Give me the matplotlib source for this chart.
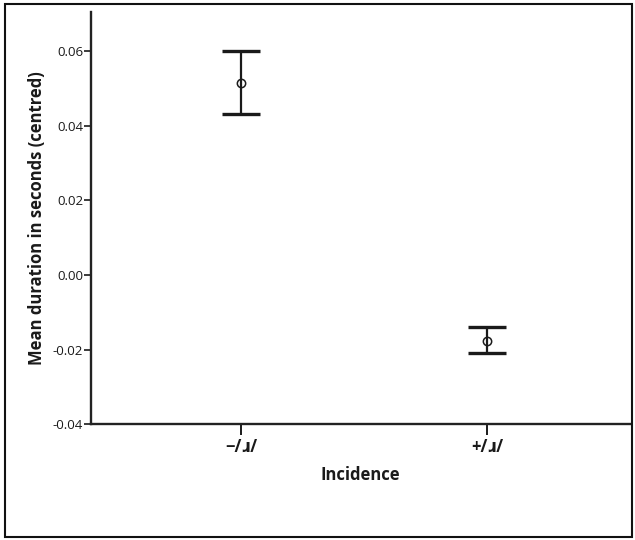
import matplotlib
matplotlib.use("Agg")
import matplotlib.pyplot as plt
from matplotlib.patches import Rectangle

categories = ["\u2212/\u0279/", "+/\u0279/"]
means = [0.0516, -0.0176]
upper = [0.0600, -0.0140]
lower = [0.0433, -0.0210]
yticks = [-0.04, -0.02, 0.00, 0.02, 0.04, 0.06]
ytick_labels = ["-0.04", "-0.02", "0.00", "0.02", "0.04", "0.06"]

fam = ["Open Sans", "DejaVu Sans"]
plt.rcParams['font.family'] = fam

fig = plt.figure(figsize=(6.35, 5.40), dpi=100)
ax = fig.add_axes([0.144, 0.2148, 0.848, 0.763])

x = list(range(len(categories)))
yerr = [[m - l for m, l in zip(means, lower)], [u - m for m, u in zip(means, upper)]]
cont = ax.errorbar(x, means, yerr=yerr, fmt='none', ecolor='#1a1a1a',
                   elinewidth=1.6, capsize=14, capthick=2.4)
ax.plot(x, means, 'o', color='#1a1a1a', markersize=6, markerfacecolor='none',
        markeredgewidth=1.1, zorder=4)

ax.set_xlim(-0.61, 1.58)
ax.set_ylim(-0.04, 0.0706)
ax.set_yticks(yticks)
ax.set_yticklabels(ytick_labels)
ax.set_xticks(x)
ax.set_xticklabels(categories)

for s in ['top', 'right']:
    ax.spines[s].set_visible(False)
for s in ['left', 'bottom']:
    ax.spines[s].set_linewidth(1.7)
    ax.spines[s].set_color('#222222')

ax.tick_params(axis='y', direction='out', length=5, width=1.2, labelsize=9.5,
               colors='#1a1a1a', pad=1)
ax.tick_params(axis='x', direction='out', length=8, width=1.4, labelsize=12,
               colors='#1a1a1a', pad=2)
for t in ax.get_xticklabels():
    t.set_fontweight('bold')

ax.set_ylabel("Mean duration in seconds (centred)", fontsize=12, fontweight='bold',
              color='#1a1a1a', labelpad=5)
ax.set_xlabel("Incidence", fontsize=12, fontweight='bold', color='#1a1a1a', labelpad=7)

fig.patches.append(Rectangle((5/635, 3/540), 627/635, 533/540, transform=fig.transFigure,
                             fill=False, edgecolor='#111111', linewidth=1.5))

fig.savefig("out.png", dpi=100)
